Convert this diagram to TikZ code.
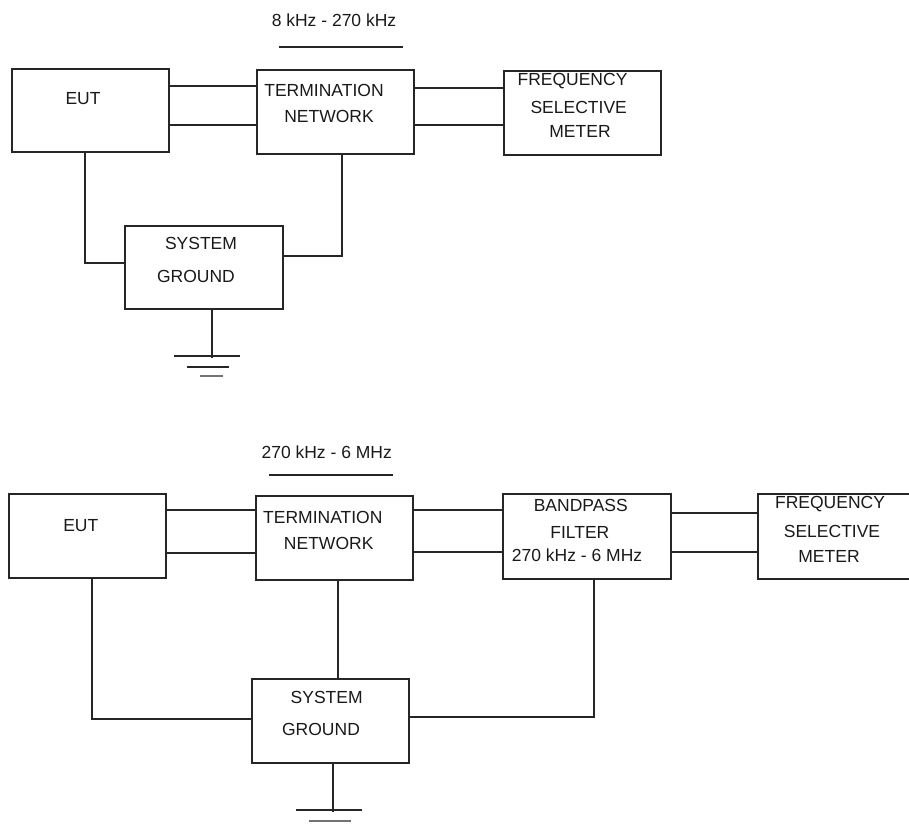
\documentclass[tikz,border=0pt]{standalone}
\usepackage{fontspec}
\setmainfont{Liberation Sans}
\begin{document}
\begin{tikzpicture}[x=1pt,y=-1pt,
  box/.style={draw=black!85,line width=1.1pt,rectangle,inner sep=0pt,minimum width=#1},
  box/.default=157pt,
  lbl/.style={anchor=base,inner sep=0pt,font=\fontsize{17.5}{20}\selectfont,text=black!90},
  wire/.style={draw=black!85,line width=1.1pt},
  gnd/.style={draw=black!85,line width=1.1pt},
  gndlast/.style={draw=black!55,line width=1.6pt}]
\useasboundingbox (0,0) rectangle (909,826);

% ===== Top diagram =====
\node[lbl] (f1) at (334,27) {8 kHz - 270 kHz};
\coordinate (u1a) at (279,47);
\coordinate (u1b) at (403,47);
\draw[wire] (u1a) -- (u1b);

\node[box,minimum height=83pt] (eut1) at (90.5,110.5) {};
\node[box,minimum height=84pt] (tn1) at (335.5,112) {};
\node[box,minimum height=84pt] (fsm1) at (582.5,113) {};
\node[box=158pt,minimum height=83pt] (sg1) at (204,267.5) {};

\node[lbl] (t1) at (83,105) {EUT};
\node[lbl] (t2) at (324,97) {TERMINATION};
\node[lbl] (t3) at (329,123) {NETWORK};
\node[lbl] (t4) at (572.5,86) {FREQUENCY};
\node[lbl] (t5) at (578.7,114) {SELECTIVE};
\node[lbl] (t6) at (580,138) {METER};
\node[lbl] (t7) at (201,249) {SYSTEM};
\node[lbl] (t8) at (196,282) {GROUND};

\draw[wire] (eut1.east |- 0,86) -- (tn1.west |- 0,86);
\draw[wire] (eut1.east |- 0,125) -- (tn1.west |- 0,125);
\draw[wire] (tn1.east |- 0,88) -- (fsm1.west |- 0,88);
\draw[wire] (tn1.east |- 0,125) -- (fsm1.west |- 0,125);
\draw[wire] (eut1.south -| 85,0) |- (sg1.west |- 0,263);
\draw[wire] (tn1.south -| 342,0) |- (sg1.east |- 0,256);
\coordinate (g1) at (212,358);
\draw[wire] (sg1.south -| g1) -- (g1);
\draw[gnd] (174,356) -- (240,356);
\draw[gnd] (187,367) -- (229,367);
\draw[gndlast] (200,376) -- (223,376);

% ===== Bottom diagram =====
\node[lbl] (f2) at (326.7,458) {270 kHz - 6 MHz};
\coordinate (u2a) at (269,475);
\coordinate (u2b) at (393,475);
\draw[wire] (u2a) -- (u2b);

\node[box,minimum height=84pt] (eut2) at (87.5,536) {};
\node[box,minimum height=84pt] (tn2) at (334.5,538) {};
\node[box=168pt,minimum height=85pt] (bp) at (587,536.5) {};
\node[box=156pt,minimum height=85pt] (fsm2) at (836,536.5) {};
\node[box,minimum height=84pt] (sg2) at (330.5,721) {};

\node[lbl] (s1) at (80.8,531) {EUT};
\node[lbl] (s2) at (322.8,523) {TERMINATION};
\node[lbl] (s3) at (328.7,549) {NETWORK};
\node[lbl] (s4) at (580.8,511) {BANDPASS};
\node[lbl] (s5) at (579.8,538) {FILTER};
\node[lbl] (s6) at (577,561) {270 kHz - 6 MHz};
\node[lbl] (s7) at (830,508) {FREQUENCY};
\node[lbl] (s8) at (832,537) {SELECTIVE};
\node[lbl] (s9) at (829,562) {METER};
\node[lbl] (s10) at (326.7,703) {SYSTEM};
\node[lbl] (s11) at (321,735) {GROUND};

\draw[wire] (eut2.east |- 0,510) -- (tn2.west |- 0,510);
\draw[wire] (eut2.east |- 0,553) -- (tn2.west |- 0,553);
\draw[wire] (tn2.east |- 0,510) -- (bp.west |- 0,510);
\draw[wire] (tn2.east |- 0,552) -- (bp.west |- 0,552);
\draw[wire] (bp.east |- 0,513) -- (fsm2.west |- 0,513);
\draw[wire] (bp.east |- 0,552) -- (fsm2.west |- 0,552);
\draw[wire] (eut2.south -| 92,0) |- (sg2.west |- 0,719);
\draw[wire] (tn2.south -| 338,0) -- (sg2.north -| 338,0);
\draw[wire] (bp.south -| 594,0) |- (sg2.east |- 0,717);
\coordinate (g2) at (333,812);
\draw[wire] (sg2.south -| g2) -- (g2);
\draw[gnd] (296,810) -- (362,810);
\draw[gndlast] (309,821) -- (351,821);
\end{tikzpicture}
\end{document}
